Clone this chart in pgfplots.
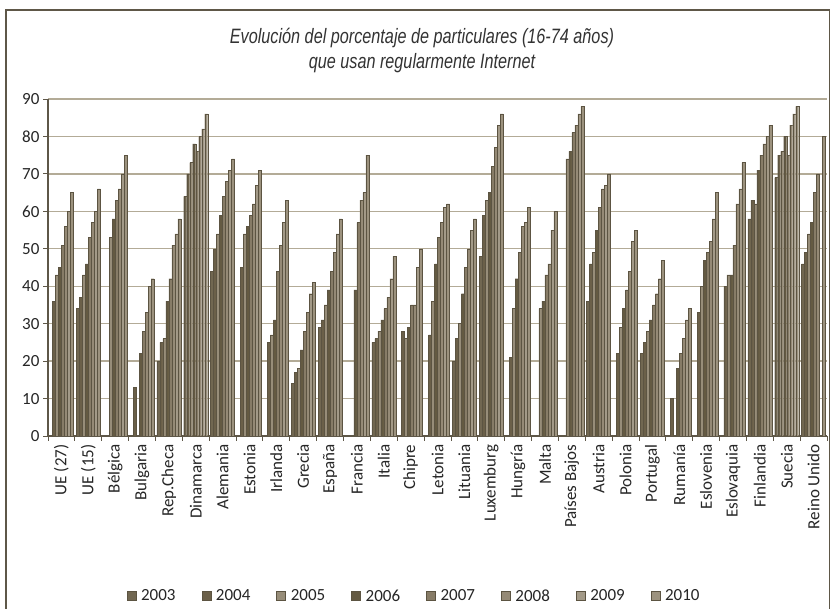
\documentclass[border=0pt]{standalone}
\usepackage{fontspec}
\setmainfont{Carlito}
\newfontfamily\titlefont[FakeStretch=0.78]{Liberation Sans}
\usepackage{pgfplots}
\usepackage{pgfplotstable}
\pgfplotsset{compat=1.18}

\definecolor{cA}{HTML}{716751}
\definecolor{cB}{HTML}{6B6049}
\definecolor{cC}{HTML}{978D79}
\definecolor{cD}{HTML}{645A42}
\definecolor{cE}{HTML}{877C67}
\definecolor{cF}{HTML}{958A76}
\definecolor{cG}{HTML}{A39A88}
\definecolor{cH}{HTML}{9C927E}
\definecolor{edge}{HTML}{5C5442}
\definecolor{marco}{HTML}{5E5748}
\definecolor{rejilla}{HTML}{B3AB97}

% porcentaje por pais y año (nan = sin dato)
\pgfplotstableread{
i  y03 y04 y05 y06 y07 y08 y09 y10
0  nan 36  43  45  51  56  60  65
1  34  37  43  46  53  57  60  66
2  nan nan 53  58  63  66  70  75
3  nan 13  nan 22  28  33  40  42
4  20  25  26  36  42  51  54  58
5  64  70  73  78  76  80  82  86
6  44  50  54  59  64  68  71  74
7  nan 45  54  56  59  62  67  71
8  nan 25  27  31  44  51  57  63
9  14  17  18  23  28  33  38  41
10 29  31  35  39  44  49  54  58
11 nan nan nan 39  57  63  65  75
12 25  26  28  31  34  37  42  48
13 nan 28  26  29  35  35  45  50
14 nan 27  36  46  53  57  61  62
15 20  26  30  38  45  50  55  58
16 48  59  63  65  72  77  83  86
17 nan 21  34  42  49  56  57  61
18 nan nan 34  36  43  46  55  60
19 nan nan 74  76  81  83  86  88
20 36  46  49  55  61  66  67  70
21 nan 22  29  34  39  44  52  55
22 22  25  28  31  35  38  42  47
23 nan 10  nan 18  22  26  31  34
24 nan 33  40  47  49  52  58  65
25 nan 40  43  43  51  62  66  73
26 58  63  62  71  75  78  80  83
27 69  75  76  80  75  83  86  88
28 46  49  54  57  65  70  nan 80
}\datos

\begin{document}
\begin{tikzpicture}
\useasboundingbox (0pt,0pt) rectangle (832pt,609pt);
\fill[white] (0pt,0pt) rectangle (832pt,609pt);
\draw[marco, line width=1.5pt] (6pt,-10pt) -- (6pt,599pt) -- (829.5pt,599pt) -- (829.5pt,-10pt);
\node[anchor=base, text=black!80] at (422pt,565pt)
  {\titlefont\itshape\fontsize{20.8}{20.8}\selectfont Evolución del porcentaje de particulares (16-74 años)};
\node[anchor=base, text=black!80] at (422pt,540pt)
  {\titlefont\itshape\fontsize{20.8}{20.8}\selectfont que usan regularmente Internet};

\begin{axis}[
    at={(48pt,173pt)}, anchor=south west,
    scale only axis, width=779pt, height=337pt,
    ybar=0pt, bar width=3pt,
    xmin=-0.5, xmax=28.5,
    ymin=0, ymax=90,
    ytick={0,10,...,90},
    xtick={0,...,28},
    xticklabels={UE (27),UE (15),Bélgica,Bulgaria,Rep.Checa,Dinamarca,Alemania,Estonia,Irlanda,Grecia,España,Francia,Italia,Chipre,Letonia,Lituania,Luxemburg,Hungría,Malta,Países Bajos,Austria,Polonia,Portugal,Rumanía,Eslovenia,Eslovaquia,Finlandia,Suecia,Reino Unido},
    minor xtick={-0.5,0.5,...,28.5},
    major x tick style={draw=none},
    minor tick length=5pt, major tick length=5pt,
    tick align=outside,
    axis x line*=bottom, axis y line*=left,
    axis line style={marco, line width=1.2pt},
    every tick/.style={marco, line width=0.8pt},
    ymajorgrids, grid style={rejilla, line width=1.4pt},
    /pgf/number format/assume math mode=true,
    yticklabel style={font=\fontsize{17}{17}\selectfont, text=black!85},
    xticklabel style={rotate=90, anchor=east, font=\fontsize{17}{17}\selectfont, text=black!85},
    legend columns=8,
    legend style={at={(0.47,-0.475)}, anchor=center, draw=none, fill=none,
        font=\fontsize{17}{17}\selectfont, text=black!85,
        /tikz/every odd column/.append style={column sep=3pt},
        /tikz/every even column/.append style={column sep=24pt}},
    legend image code/.code={\fill[#1] (0pt,-4pt) rectangle (9pt,5pt);},
]
\addplot[fill=cA, draw=edge, line width=0.4pt] table[x=i, y=y03] {\datos};
\addplot[fill=cB, draw=edge, line width=0.4pt] table[x=i, y=y04] {\datos};
\addplot[fill=cC, draw=edge, line width=0.4pt] table[x=i, y=y05] {\datos};
\addplot[fill=cD, draw=edge, line width=0.4pt] table[x=i, y=y06] {\datos};
\addplot[fill=cE, draw=edge, line width=0.4pt] table[x=i, y=y07] {\datos};
\addplot[fill=cF, draw=edge, line width=0.4pt] table[x=i, y=y08] {\datos};
\addplot[fill=cG, draw=edge, line width=0.4pt] table[x=i, y=y09] {\datos};
\addplot[fill=cH, draw=edge, line width=0.4pt] table[x=i, y=y10] {\datos};
\legend{2003,2004,2005,2006,2007,2008,2009,2010}
\end{axis}
\end{tikzpicture}
\end{document}
